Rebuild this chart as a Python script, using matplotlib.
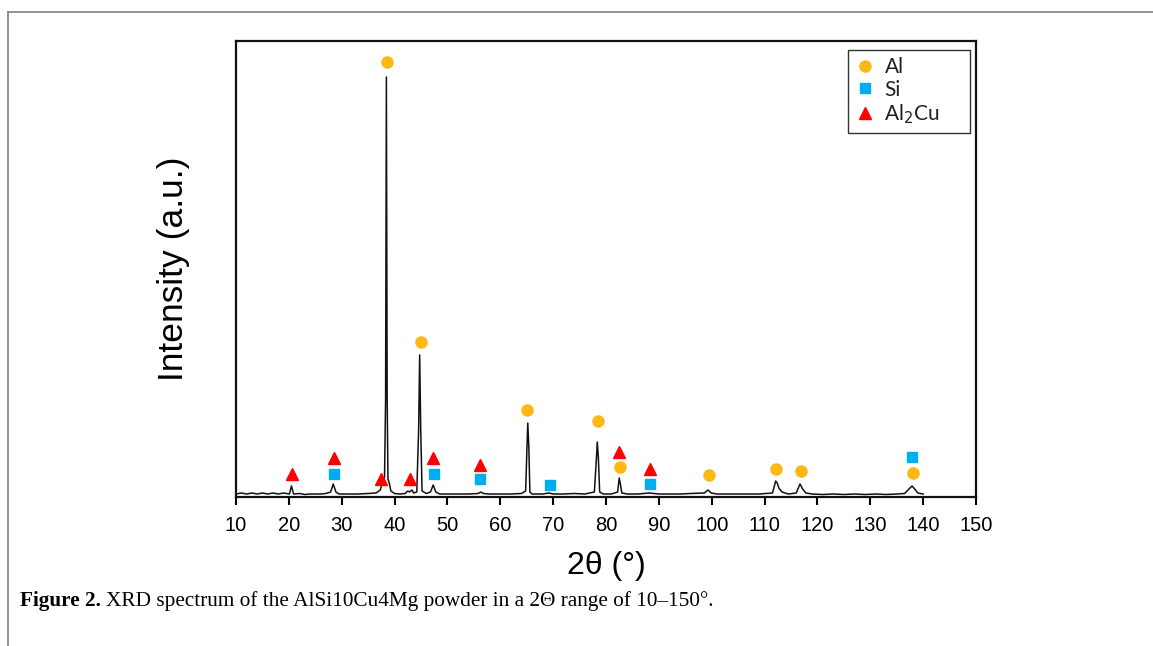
import matplotlib
matplotlib.use("Agg")
import matplotlib.pyplot as plt
from matplotlib.lines import Line2D

# XRD trace vertices (2theta, intensity a.u.)
two_theta = [
    10.0, 11, 12, 13, 14, 15, 16, 17, 18, 19, 20.1, 20.5, 20.9, 22, 23, 24,
    25, 26, 27, 27.9, 28.4, 28.9, 29.5, 31, 33, 35, 36.5, 37.3, 37.8, 38.1,
    38.3, 38.45, 38.6, 38.75, 39.0, 39.3, 40, 41, 42, 42.5, 42.8, 43.3, 43.6,
    44.2, 44.55, 44.75, 44.95, 45.2, 46, 46.8, 47.3, 47.8, 48.5, 50, 52, 54,
    55.8, 56.3, 56.8, 58, 60, 62, 64, 64.8, 65.05, 65.2, 65.4, 65.6, 66, 68,
    69.2, 70, 72, 74, 76, 77.8, 78.2, 78.35, 78.55, 78.8, 79.5, 81, 82.2,
    82.5, 82.75, 83, 84, 86, 88.2, 90, 92, 94, 96, 98.6, 99.3, 99.9, 101,
    103, 105, 107, 109, 111.5, 112.1, 112.4, 112.7, 113.3, 114.5, 116,
    116.7, 117.2, 117.8, 119, 121, 123, 125, 127, 129, 131, 133, 135, 136.5,
    137.5, 137.9, 138.4, 139, 140,
]
intensity = [
    3, 4, 3, 4, 3, 4, 3, 4, 3, 4, 3, 11, 3, 3.5, 2.5, 3,
    3, 3, 3.5, 5, 13, 5, 3, 3, 3, 3.5, 4, 7, 16, 20,
    97, 420, 97, 18, 14, 6, 3.5, 3, 3.5, 6, 5, 7, 4,
    5, 67, 142, 67, 6, 3.5, 5, 12, 5, 3, 3, 3, 3,
    3.5, 5, 3.5, 3, 3, 3, 3.5, 6, 50, 74, 50, 5, 3, 3,
    4, 3, 3, 3.5, 3, 5, 40, 55, 40, 5, 3, 3, 5,
    19, 12, 4, 3, 3, 4, 3, 3, 3, 3.5, 4, 7, 4, 3,
    3, 3, 3, 3, 4, 16, 14, 9, 5, 3, 4,
    13, 8, 4, 3, 2.5, 3, 2.5, 3, 2.5, 3, 2.5, 3, 3.5,
    9, 11, 8, 4, 3,
]

# phase markers
al_x = [38.6, 45.0, 65.1, 78.5, 82.6, 99.5, 112.2, 116.9, 138.1]
al_y = [435, 155, 87, 76, 30, 22, 28, 26, 24]
si_x = [28.5, 47.4, 56.2, 69.4, 88.3, 137.9]
si_y = [23, 23, 18, 12, 13, 40]
al2cu_x = [20.6, 28.5, 37.5, 42.9, 47.3, 56.2, 82.5, 88.3]
al2cu_y = [23, 39, 18, 18, 39, 32, 45, 28]

xticks = list(range(10, 151, 10))

c_al = "#FDB813"
c_si = "#00AEEF"
c_cu = "#FF0000"

plt.rcParams["font.family"] = ["Liberation Sans", "DejaVu Sans"]

fig = plt.figure(figsize=(11.53, 6.46), dpi=100)

# page frame (top and left edge only)
fig.add_artist(Line2D([8 / 1153, 1.0], [1 - 12 / 646] * 2, color="#8a8a8a",
                      lw=1.3, transform=fig.transFigure))
fig.add_artist(Line2D([8 / 1153] * 2, [0.0, 1 - 12 / 646], color="#8a8a8a",
                      lw=1.3, transform=fig.transFigure))

ax = fig.add_axes([236 / 1153, 149 / 646, 740 / 1153, 456 / 646])

ax.plot(two_theta, intensity, color="#111111", lw=1.1)
ax.plot(al_x, al_y, "o", color=c_al, ms=8, ls="none", label="Al")
ax.plot(si_x, si_y, "s", color=c_si, ms=7.5, ls="none", label="Si")
ax.plot(al2cu_x, al2cu_y, "^", color=c_cu, ms=8.5, ls="none",
        label="Al$_2$Cu")

ax.set_xlim(10, 150)
ax.set_ylim(0, 456)
ax.set_xticks(xticks)
ax.set_yticks([])
ax.tick_params(axis="x", direction="out", length=6, width=1.5,
               labelsize=14.5, pad=8)
for s in ax.spines.values():
    s.set_linewidth(1.6)
    s.set_color("#111111")

ax.set_xlabel("2θ (°)", fontsize=23, labelpad=11)
ax.set_ylabel("Intensity (a.u.)", fontsize=25.5, labelpad=33)

# legend box stretched to the width seen in the picture
leg = ax.legend(loc="upper left", bbox_to_anchor=(0.827, 0.5, 0.165, 0.4803),
                mode="expand", borderaxespad=0, fancybox=False,
                edgecolor="#333333", framealpha=1,
                prop={"family": "Lato", "size": 15}, handlelength=0.9,
                handletextpad=0.5, labelspacing=0.12, borderpad=0.35)
leg.get_frame().set_linewidth(1.0)
for t in leg.get_texts():
    t.set_color("#222222")

# caption: bold lead-in, then the rest right after it
cap_y = 1 - 601 / 646
lead = fig.text(20 / 1153, cap_y, "Figure 2.", fontsize=15.3,
                family="Liberation Serif", fontweight="bold", va="center")
fig.canvas.draw()
bb = lead.get_window_extent().transformed(fig.transFigure.inverted())
fig.text(bb.x1 + 5 / 1153, cap_y,
         "XRD spectrum of the AlSi10Cu4Mg powder in a 2Θ range of 10–150°.",
         fontsize=15.3, family="Liberation Serif", va="center")

fig.savefig("out.png", dpi=100)
